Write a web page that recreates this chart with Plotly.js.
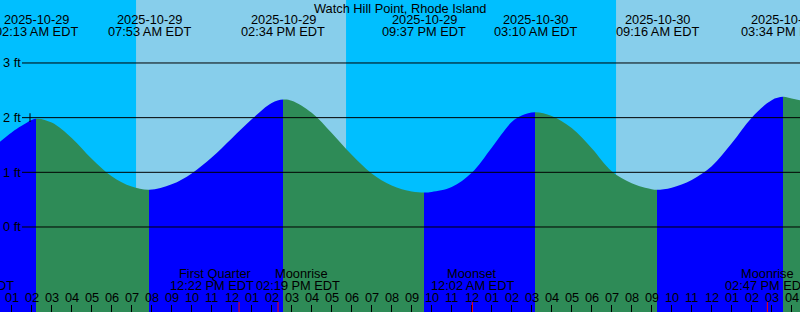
<!DOCTYPE html>
<html>
<head>
<meta charset="utf-8">
<script src="https://cdn.plot.ly/plotly-3.0.1.min.js"></script>
<style>html,body{margin:0;padding:0;background:#fff;}#chart{width:800px;height:312px;}</style>
</head>
<body>
<div id="chart"></div>
<script>
// ---- Data (hours since 2025-10-29 00:00 EDT) ----
const tideEventHours   = [2.217, 7.883, 14.567, 21.617, 27.167, 33.267, 39.567];
const tideEventHeights = [1.98, 0.68, 2.33, 0.63, 2.10, 0.68, 2.38];
const tideEventTypes   = ['H', 'L', 'H', 'L', 'H', 'L', 'H'];
const tideEventDates   = ['2025-10-29', '2025-10-29', '2025-10-29', '2025-10-29', '2025-10-30', '2025-10-30', '2025-10-30'];
const tideEventTimes   = ['02:13 AM EDT', '07:53 AM EDT', '02:34 PM EDT', '09:37 PM EDT', '03:10 AM EDT', '09:16 AM EDT', '03:34 PM EDT'];

// tide height (feet)
const curveHours   = [0.415, 1, 1.5, 2.217, 3, 4, 5, 6, 7, 7.883, 9, 10, 11, 12, 13, 14, 14.567, 15, 16, 17, 18, 19, 20, 21, 21.617, 22, 23, 24, 25, 26, 26.5, 27.167, 28, 29, 30, 31, 32, 33, 33.267, 34, 35, 36, 37, 38, 39, 39.567, 40, 40.415];
const curveHeights = [1.56, 1.73, 1.85, 1.98, 1.91, 1.63, 1.25, 0.93, 0.74, 0.68, 0.78, 0.98, 1.27, 1.62, 1.97, 2.27, 2.33, 2.31, 2.09, 1.72, 1.32, 0.98, 0.76, 0.65, 0.63, 0.64, 0.73, 0.99, 1.45, 1.92, 2.04, 2.10, 2.03, 1.81, 1.44, 1.02, 0.80, 0.69, 0.68, 0.72, 0.86, 1.11, 1.53, 2.00, 2.32, 2.38, 2.35, 2.32];

const sunriseHours = [7.217, 31.217];
const sunsetHours  = [17.717];

const moonEventNames = ['Moonset', 'First Quarter', 'Moonrise', 'Moonset', 'Moonrise'];
const moonEventHours = [-0.967, 12.367, 14.317, 24.033, 38.783];
const moonEventTimes = ['11:02 PM EDT', '12:22 PM EDT', '02:19 PM EDT', '12:02 AM EDT', '02:47 PM EDT'];

const hourTicks = [];
for (let h = 1; h <= 40; h++) hourTicks.push(h);
const hourLabels = hourTicks.map(h => { const v = h % 12 === 0 ? 12 : h % 12; return (v < 10 ? '0' : '') + v; });

const heightTicks = [0, 1, 2, 3];
const heightTickLabels = ['0 ft', '1 ft', '2 ft', '3 ft'];
const markHours = [1.915];
const markLevel = 2;

const locationName = 'Watch Hill Point, Rhode Island';

// ---- Layout constants ----
const W = 800, H = 312;
const xRange = [0.415, 40.415];
const yRange = [-1.555, 4.152];
const FONT = 'Liberation Sans, Arial, Helvetica, sans-serif';
const FS = 12.8;
const NIGHT = '#00BFFF', DAY = '#87CEEB', RISING = '#0000FF', FALLING = '#2E8B57';
// pixel nudges that keep crowded moon labels apart (index into moon events)
const moonLabelShift = {1: [-24, -27], 2: [23, 20]};
const py = px => 1 - px / H;
const span = xRange[1] - xRange[0];
const toPaperX = t => (t - xRange[0]) / span;

// water fill gradient (rising = blue, falling = green)
const firstColor = tideEventTypes[0] === 'H' ? RISING : FALLING;
const waterScale = [[0, firstColor]];
let cur = firstColor;
tideEventHours.forEach((t, i) => {
  const p = toPaperX(t);
  if (p <= 0 || p >= 1) return;
  const next = tideEventTypes[i] === 'H' ? FALLING : RISING;
  waterScale.push([p, cur]);
  waterScale.push([p, next]);
  cur = next;
});
waterScale.push([1, cur]);

const traces = [
  { x: xRange, y: [yRange[0] - 1, yRange[0] - 1], mode: 'lines', line: {color: 'rgba(0,0,0,0)', width: 0}, hoverinfo: 'skip', showlegend: false },
  { x: curveHours, y: curveHeights, mode: 'lines', line: {shape: 'spline', smoothing: 1, color: 'rgba(0,0,0,0)', width: 0},
    fill: 'tonexty', fillcolor: RISING,
    fillgradient: {type: 'horizontal', start: xRange[0], stop: xRange[1], colorscale: waterScale},
    hoverinfo: 'skip', showlegend: false }
];

const shapes = [];
sunriseHours.forEach((sr, i) => {
  const ss = i < sunsetHours.length ? sunsetHours[i] : xRange[1];
  shapes.push({type: 'rect', xref: 'x', yref: 'paper', x0: sr, x1: ss, y0: 0, y1: 1, fillcolor: DAY, line: {width: 0}, layer: 'below'});
});
heightTicks.forEach(v => {
  shapes.push({type: 'line', xref: 'paper', yref: 'y', x0: 22 / W, x1: 1, y0: v, y1: v, line: {color: '#000', width: 1}, layer: 'above'});
});
markHours.forEach(t => {
  shapes.push({type: 'line', xref: 'x', yref: 'y', x0: t, x1: t, y0: markLevel - 0.08, y1: markLevel + 0.08, line: {color: '#000', width: 1}, layer: 'above'});
});
moonEventHours.forEach(t => {
  shapes.push({type: 'line', xref: 'x', yref: 'paper', x0: t, x1: t, y0: 0, y1: 10 / H, line: {color: '#FF0000', width: 1}, layer: 'above'});
});

const ann = [];
// x given in hours; placed in paper coordinates so labels whose anchor lies past the edge stay (partly) visible
const txt = (t, ypx, text, shift) => ({
  x: toPaperX(t), xref: 'paper', y: py(ypx), yref: 'paper', text: text, showarrow: false,
  xshift: shift || 0,
  xanchor: 'center', yanchor: 'middle', font: {family: FONT, size: FS, color: '#000'}
});
ann.push({x: 0.5, xref: 'paper', y: py(8), yref: 'paper', text: locationName, showarrow: false,
  xanchor: 'center', yanchor: 'middle', font: {family: FONT, size: FS, color: '#000'}});
tideEventHours.forEach((t, i) => {
  ann.push(txt(t, 19.5, tideEventDates[i]));
  ann.push(txt(t, 31.5, tideEventTimes[i]));
});
heightTicks.forEach((v, i) => {
  ann.push({x: 1 / W, xref: 'paper', y: v, yref: 'y', text: heightTickLabels[i], showarrow: false,
    xanchor: 'left', yanchor: 'middle', font: {family: FONT, size: FS, color: '#000'}});
});
moonEventHours.forEach((t, i) => {
  const s = moonLabelShift[i] || [0, 0];
  ann.push(txt(t, 273.5, moonEventNames[i], s[0]));
  ann.push(txt(t, 285.5, moonEventTimes[i], s[1]));
});
hourTicks.forEach((t, i) => ann.push(txt(t, 297.5, hourLabels[i])));

const layout = {
  width: W, height: H,
  margin: {l: 0, r: 0, t: 0, b: 0, pad: 0},
  paper_bgcolor: NIGHT, plot_bgcolor: NIGHT,
  showlegend: false,
  xaxis: {range: xRange, showgrid: false, zeroline: false, showline: false,
    tickmode: 'array', tickvals: hourTicks, ticks: 'inside', ticklen: 7, tickwidth: 1, tickcolor: '#000',
    showticklabels: false, fixedrange: true},
  yaxis: {range: yRange, showgrid: false, zeroline: false, showline: false, showticklabels: false, ticks: '', fixedrange: true},
  shapes: shapes,
  annotations: ann,
  font: {family: FONT, size: FS, color: '#000'}
};

Plotly.newPlot('chart', traces, layout, {displayModeBar: false, staticPlot: true});
</script>
</body>
</html>
